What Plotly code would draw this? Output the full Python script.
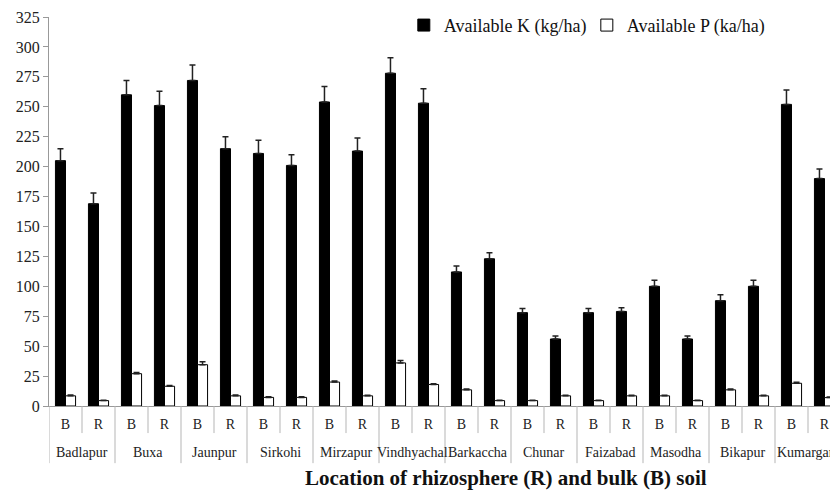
import plotly.graph_objects as go

locations = ["Badlapur", "Buxa", "Jaunpur", "Sirkohi", "Mirzapur", "Vindhyachal",
             "Barkaccha", "Chunar", "Faizabad", "Masodha", "Bikapur", "Kumarganj"]
soil = ["B", "R"]

k_vals = [205, 169, 260, 251, 272, 215, 211, 201, 254, 213, 278, 253,
          112, 123, 78, 56, 78, 79, 100, 56, 88, 100, 252, 190]
k_err = [10, 9, 12, 12, 13, 10, 11, 9, 13, 11, 13, 12,
         5, 5, 3.5, 2.5, 3.5, 3, 5, 2.5, 5, 5, 12, 8]
p_vals = [8.5, 4.5, 27, 16.5, 34.5, 8.5, 7.2, 7.2, 20, 8.5, 36, 18,
          13.5, 4.5, 4.5, 8.5, 4.5, 8.5, 8.5, 4.5, 13.5, 8.5, 19, 7]
p_err = [0.6, 0.4, 1.0, 0.6, 2.5, 0.6, 0.5, 0.5, 0.8, 0.5, 2.0, 0.6,
         0.6, 0.4, 0.4, 0.5, 0.4, 0.5, 0.5, 0.4, 0.6, 0.5, 0.8, 0.5]

cats = [f"{loc} {s}" for loc in locations for s in soil]
inner_labels = [s for _ in locations for s in soil]

serif = "Liberation Serif, Times New Roman, serif"
PLOT_H = 388.0  # px height of plot area (used for paper offsets of label rows)

fig = go.Figure()
fig.add_trace(go.Bar(
    x=cats, y=k_vals, name="Available K (kg/ha)",
    marker=dict(color="black", line=dict(color="black", width=1)),
    error_y=dict(type="data", array=k_err, arrayminus=[0] * len(k_err),
                 color="#222", thickness=1.5, width=3),
))
fig.add_trace(go.Bar(
    x=cats, y=p_vals, name="Available P (ka/ha)",
    marker=dict(color="white", line=dict(color="black", width=1)),
    error_y=dict(type="data", array=p_err, arrayminus=[0] * len(p_err),
                 color="#222", thickness=1.5, width=3),
))

shapes = []
for i in range(len(cats) + 1):
    is_group = (i % 2 == 0)
    depth = 57 if is_group else 27
    shapes.append(dict(type="line", xref="x", yref="paper",
                       x0=i - 0.5, x1=i - 0.5, y0=0, y1=-depth / PLOT_H,
                       line=dict(color="#b5b5b5", width=1)))

annotations = []
for j, loc in enumerate(locations):
    annotations.append(dict(text=loc, xref="x", yref="paper", x=2 * j + 0.5,
                            y=-46 / PLOT_H, xanchor="center", yanchor="middle",
                            showarrow=False,
                            font=dict(family=serif, size=14, color="#222")))
annotations.append(dict(text="<b>Location of rhizosphere (R) and bulk (B) soil</b>",
                        xref="paper", yref="paper", x=0.577, y=-0.186,
                        xanchor="center", yanchor="middle", showarrow=False,
                        font=dict(family=serif, size=21, color="#111")))

fig.update_layout(
    width=833, height=492,
    margin=dict(l=41, r=0, t=9, b=94, autoexpand=False),
    plot_bgcolor="white", paper_bgcolor="white",
    barmode="group", bargap=0.39, bargroupgap=0,
    font=dict(family=serif, color="#222", size=14),
    legend=dict(orientation="h", x=0.448, y=1.026, xanchor="left", yanchor="top",
                font=dict(family=serif, size=18, color="#111"),
                bgcolor="rgba(0,0,0,0)", itemwidth=30, entrywidth=138,
                traceorder="normal"),
    shapes=shapes,
    annotations=annotations,
)
fig.update_yaxes(range=[0, 325], dtick=25, showgrid=False, zeroline=False,
                 showline=True, linecolor="#999", linewidth=1,
                 ticks="outside", ticklen=5, tickcolor="#999",
                 tickfont=dict(family=serif, size=16, color="#222"))
fig.update_xaxes(type="category", categoryorder="array", categoryarray=cats,
                 range=[-0.5, 23.5], showgrid=False,
                 showline=True, linecolor="#999", linewidth=1,
                 ticks="", tickmode="array", tickvals=cats, ticktext=inner_labels,
                 ticklabelstandoff=5, tickangle=0,
                 tickfont=dict(family=serif, size=14, color="#222"))

fig.write_html("out.html")
